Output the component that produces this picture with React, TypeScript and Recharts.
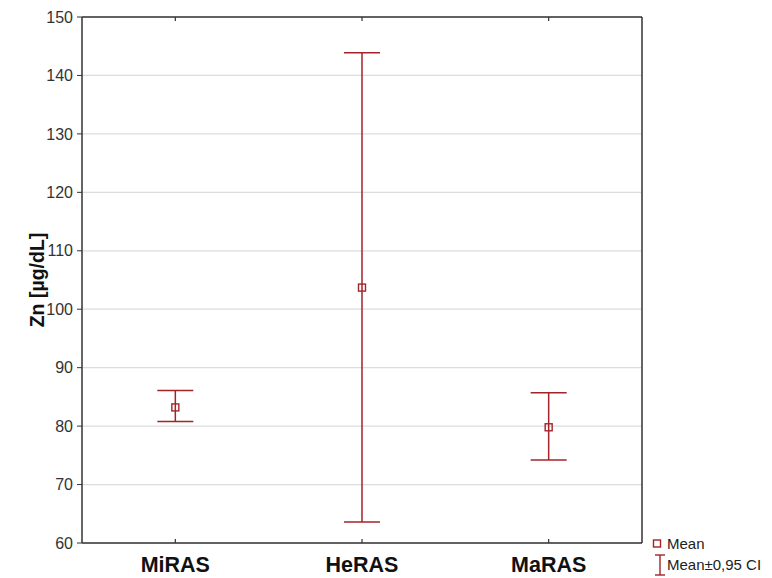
import {
  ComposedChart,
  Scatter,
  ErrorBar,
  XAxis,
  YAxis,
  CartesianGrid,
} from "recharts";

const groups = ["MiRAS", "HeRAS", "MaRAS"];
const means = [83.2, 103.7, 79.8];
const ciLow = [80.8, 63.6, 74.2];
const ciHigh = [86.1, 143.9, 85.7];
const yTicks = [60, 70, 80, 90, 100, 110, 120, 130, 140, 150];

const RED = "#a3232a";
const FONT = "'Liberation Sans', Arial, sans-serif";

const data = groups.map((g, i) => ({
  group: g,
  mean: means[i],
  err: [means[i] - ciLow[i], ciHigh[i] - means[i]],
}));

const BottomTick = (props: any) => {
  const { x, y, payload } = props;
  return (
    <g>
      <line x1={x} y1={y} x2={x} y2={y - 4} stroke="#333" strokeWidth={1.2} />
      <text
        x={x}
        y={y + 29}
        textAnchor="middle"
        fontFamily={FONT}
        fontSize={21.5}
        fontWeight="bold"
        fill="#111"
      >
        {payload.value}
      </text>
    </g>
  );
};

const TopTick = (props: any) => {
  const { x, y } = props;
  return <line x1={x} y1={y} x2={x} y2={y + 4} stroke="#333" strokeWidth={1.2} />;
};

const MeanSquare = (props: any) => {
  const { cx, cy } = props;
  return (
    <rect x={cx - 3.5} y={cy - 3.5} width={7} height={7} fill="none" stroke={RED} strokeWidth={1.4} />
  );
};

const YLabel = (props: any) => {
  const { viewBox } = props;
  const cx = viewBox.x + 17;
  const cy = viewBox.y + viewBox.height / 2;
  return (
    <text
      x={cx}
      y={cy}
      transform={`rotate(-90 ${cx} ${cy})`}
      textAnchor="middle"
      dominantBaseline="central"
      fontFamily={FONT}
      fontSize={19.5}
      fontWeight="bold"
      fill="#111"
    >
      Zn [µg/dL]
    </text>
  );
};

export default function App() {
  return (
    <div style={{ position: "absolute", left: 0, top: 0, width: 772, height: 578, background: "#fff" }}>
      <ComposedChart
        width={772}
        height={578}
        data={data}
        margin={{ top: 16, right: 129, left: 20, bottom: 0 }}
      >
        <CartesianGrid vertical={false} stroke="#dcdcdc" strokeWidth={1.2} />
        <XAxis
          dataKey="group"
          type="category"
          scale="band"
          height={35}
          tickLine={false}
          tickSize={0}
          tickMargin={0}
          tick={<BottomTick />}
          axisLine={{ stroke: "#333", strokeWidth: 1.5 }}
        />
        <XAxis
          xAxisId="top"
          dataKey="group"
          type="category"
          scale="band"
          orientation="top"
          height={1}
          tickLine={false}
          tickSize={0}
          tickMargin={0}
          tick={<TopTick />}
          axisLine={{ stroke: "#333", strokeWidth: 1.5 }}
        />
        <YAxis
          type="number"
          domain={[60, 150]}
          ticks={yTicks}
          width={62}
          tickSize={5}
          tickMargin={4}
          tickLine={{ stroke: "#333" }}
          axisLine={{ stroke: "#333", strokeWidth: 1.5 }}
          tick={{ fill: "#333", fontSize: 16, fontFamily: FONT }}
          label={<YLabel />}
          allowDataOverflow
        />
        <YAxis
          yAxisId="right"
          orientation="right"
          type="number"
          domain={[60, 150]}
          ticks={yTicks}
          width={1}
          tick={false}
          tickLine={false}
          axisLine={{ stroke: "#333", strokeWidth: 1.5 }}
        />
        <Scatter dataKey="mean" shape={<MeanSquare />} isAnimationActive={false}>
          <ErrorBar dataKey="err" direction="y" width={18} stroke={RED} strokeWidth={1.5} />
        </Scatter>
      </ComposedChart>
      <div
        style={{
          position: "absolute",
          left: 651,
          top: 535,
          fontFamily: FONT,
          fontSize: 15,
          color: "#222",
          lineHeight: "20px",
        }}
      >
        <div style={{ display: "flex", alignItems: "center", height: 18 }}>
          <svg width={16} height={18}>
            <rect x={2.5} y={5} width={7} height={7} fill="none" stroke={RED} strokeWidth={1.4} />
          </svg>
          <span>Mean</span>
        </div>
        <div style={{ display: "flex", alignItems: "center", height: 24 }}>
          <svg width={16} height={24}>
            <line x1={9} y1={2} x2={9} y2={22} stroke={RED} strokeWidth={1.4} />
            <line x1={4} y1={2} x2={14} y2={2} stroke={RED} strokeWidth={1.4} />
            <line x1={4} y1={22} x2={14} y2={22} stroke={RED} strokeWidth={1.4} />
          </svg>
          <span>Mean±0,95 CI</span>
        </div>
      </div>
    </div>
  );
}
